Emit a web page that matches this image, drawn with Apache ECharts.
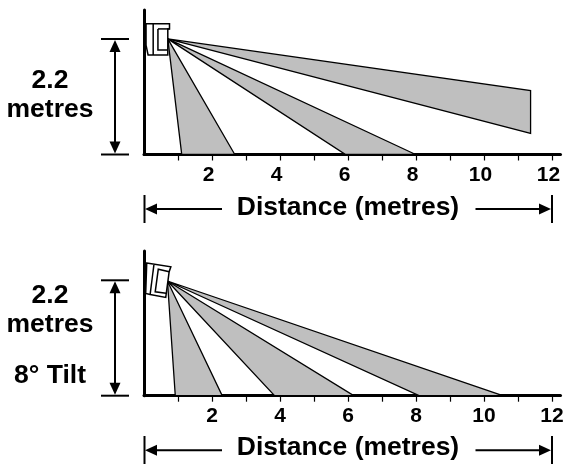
<!DOCTYPE html>
<html>
<head>
<meta charset="utf-8">
<style>html,body{margin:0;padding:0;background:#fff}#c{width:563px;height:464px}</style>
<script src="https://cdn.jsdelivr.net/npm/echarts@6/dist/echarts.min.js"></script>
</head>
<body>
<div id="c"></div>
<script>
// ---- values (metres) ----
var tickValues = [1,2,3,4,5,6,7,8,9,10,11,12];
var labelValues = [2,4,6,8,10,12];
var apexTop = [0.70, 2.20];
var beamsTop = [
  [[1.11,0],[2.67,0]],
  [[5.93,0],[7.99,0]],
  [[11.37,0.40],[11.37,1.215]]
];
var apexTilt = [0.69, 2.18];
var beamsTilt = [
  [[0.92,0],[2.30,0]],
  [[3.84,0],[6.17,0]],
  [[8.09,0],[10.55,0]]
];
var sensorTop = {
  body: [[0.06,2.486],[0.75,2.486],[0.75,2.39],[0.70,2.39],[0.70,1.895],[0.12,1.895],[0.06,2.08]],
  lines: [
    [[0.27,2.486],[0.27,1.895]],
    [[0.41,2.39],[0.41,1.99],[0.70,1.99]],
    [[0.41,2.39],[0.75,2.39]]
  ]
};
var sensorTilt = {
  body: [[0.08,2.52],[0.79,2.45],[0.74,2.356],[0.64,1.867],[0.18,1.924],[0.05,1.943]],
  lines: [
    [[0.29,2.484],[0.18,1.918]],
    [[0.74,2.356],[0.42,2.404],[0.33,1.975],[0.65,1.947]]
  ]
};
var axisTitle = 'Distance (metres)';
var heightLabel = '2.2';
var unitLabel = 'metres';
var tiltLabel = '8\u00B0 Tilt';

var FONT = '"Liberation Sans", Arial, sans-serif';
var GREY = '#bfbfbf';

function xAxisOf(i, pad){
  return {
    type:'value', gridIndex:i, min:0, max:12.25, position:'bottom',
    splitLine:{show:false},
    axisLine:{show:true, onZero:false, lineStyle:{color:'#000', width:3}},
    axisTick:{show:true, length:6, inside:false, customValues:tickValues, lineStyle:{color:'#000', width:1.2}},
    axisLabel:{show:true, customValues:labelValues, margin:10, padding:pad,
      color:'#000', fontFamily:FONT, fontWeight:'bold', fontSize:21,
      hideOverlap:false, showMaxLabel:true, showMinLabel:true, alignMinLabel:'center', alignMaxLabel:'center'}
  };
}
function yAxisOf(i){
  return {
    type:'value', gridIndex:i, min:0, max:2.75, position:'left',
    splitLine:{show:false},
    axisLine:{show:true, onZero:false, lineStyle:{color:'#000', width:3}},
    axisTick:{show:false}, axisLabel:{show:false}
  };
}
function beamSeries(i, apex, beams){
  return {
    type:'custom', xAxisIndex:i, yAxisIndex:i, clip:false, z:3, silent:true,
    data: beams.map(function(b){ return [b[0][0], b[0][1], b[1][0], b[1][1]]; }),
    renderItem:function(params, api){
      var b = beams[params.dataIndex];
      var pts = [apex, b[0], b[1]].map(function(p){ return api.coord(p); });
      return {type:'polygon', shape:{points:pts},
        style:{fill:GREY, stroke:'#000', lineWidth:1.3, lineJoin:'miter'}};
    }
  };
}
function sensorSeries(i, s){
  return {
    type:'custom', xAxisIndex:i, yAxisIndex:i, clip:false, z:4, silent:true,
    data: [s.body[0]],
    renderItem:function(params, api){
      var kids = [{type:'polygon', shape:{points:s.body.map(function(p){return api.coord(p);})},
        style:{fill:'#fff', stroke:'#000', lineWidth:1.5}}];
      s.lines.forEach(function(l){
        kids.push({type:'polyline', shape:{points:l.map(function(p){return api.coord(p);})},
          style:{fill:null, stroke:'#000', lineWidth:1.5}});
      });
      return {type:'group', children:kids};
    }
  };
}
function txt(cx, cy, s, size){
  return {type:'text', x:cx, y:cy, z:10, silent:true,
    style:{text:s, fill:'#000', font:'bold '+size+'px '+FONT, align:'center', verticalAlign:'middle'}};
}
function ln(x1,y1,x2,y2,w){
  return {type:'line', z:10, silent:true, shape:{x1:x1,y1:y1,x2:x2,y2:y2}, style:{stroke:'#000', lineWidth:w}};
}
function tri(a,b,c){
  return {type:'polygon', z:10, silent:true, shape:{points:[a,b,c]}, style:{fill:'#000'}};
}
function vDim(yT, yB){
  var x = 115;
  return [
    ln(101,yT,129,yT,2), ln(101,yB,129,yB,2), ln(x,yT+4,x,yB-4,2),
    tri([x,yT+1],[x-5.5,yT+13],[x+5.5,yT+13]),
    tri([x,yB-1],[x-5.5,yB-13],[x+5.5,yB-13])
  ];
}
function hDim(y, yT, yB){
  return [
    ln(144.5,yT,144.5,yB,2), ln(552,yT,552,yB,2),
    ln(150,y,222,y,2), ln(475.5,y,545,y,2),
    tri([145,y],[157,y-5.5],[157,y+5.5]),
    tri([551,y],[539,y-5.5],[539,y+5.5])
  ];
}

var graphics = [].concat(
  vDim(39,154.5), hDim(209,195,223),
  vDim(280.3,395.7), hDim(450.3,436,464),
  [
    txt(50,80.5,heightLabel,26.5), txt(50,109.5,unitLabel,26.5),
    txt(348,207.5,axisTitle,26.5),
    txt(50,295.5,heightLabel,26.5), txt(50,324.5,unitLabel,26.5),
    txt(50,375.5,tiltLabel,26.5),
    txt(348,447.5,axisTitle,26.5)
  ]
);

var chart = echarts.init(document.getElementById('c'), null, {renderer:'canvas'});
chart.setOption({
  animation:false,
  backgroundColor:'#fff',
  grid:[
    {left:144, top:10, width:416.5, height:144.5, containLabel:false, outerBoundsMode:'none'},
    {left:144, top:251, width:416.5, height:144.7, containLabel:false, outerBoundsMode:'none'}
  ],
  xAxis:[xAxisOf(0,[0,7,0,0]), xAxisOf(1,0)],
  yAxis:[yAxisOf(0), yAxisOf(1)],
  series:[
    beamSeries(0, apexTop, beamsTop), sensorSeries(0, sensorTop),
    beamSeries(1, apexTilt, beamsTilt), sensorSeries(1, sensorTilt)
  ],
  graphic:{elements:graphics}
});
</script>
</body>
</html>
